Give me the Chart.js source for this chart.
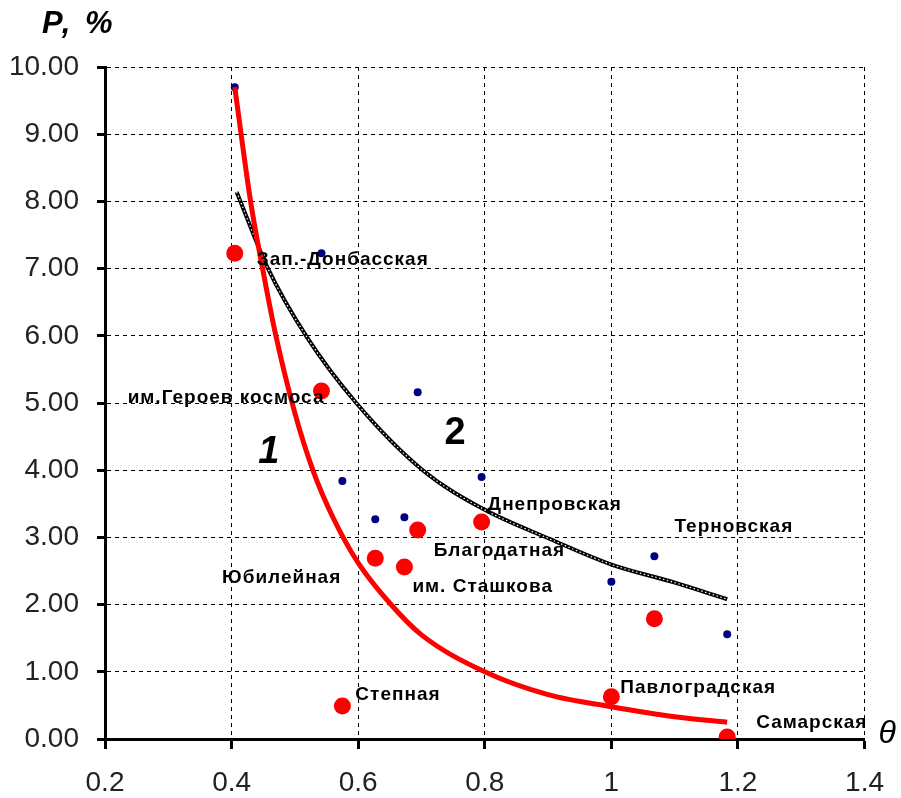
<!DOCTYPE html>
<html>
<head>
<meta charset="utf-8">
<script src="https://cdn.jsdelivr.net/npm/chart.js@4/dist/chart.umd.min.js"></script>
<style>
  html, body { margin: 0; padding: 0; background: #fff; }
  canvas { display: block; }
</style>
</head>
<body>
<canvas id="grafico" width="901" height="798"></canvas>
<script>
// шахты, безразмерный параметр theta и потери P, %
var mines = ["Зап.-Донбасская", "им.Героев космоса", "Степная", "Юбилейная", "им. Сташкова",
             "Благодатная", "Днепровская", "Павлоградская", "Терновская", "Самарская"];
var theta = [0.405, 0.542, 0.575, 0.627, 0.673, 0.694, 0.795, 1.0, 1.068, 1.183];
var pRed  = [7.23, 5.18, 0.49, 2.69, 2.56, 3.11, 3.23, 0.63, 1.79, 0.03];
var pBlue = [9.70, 7.23, 3.84, 3.27, 3.30, 5.16, 3.90, 2.34, 2.72, 1.56];

// кривая 1 (красная) и кривая 2 (черная), точки
var curve1X = [0.405, 0.43, 0.45, 0.47, 0.50, 0.53, 0.56, 0.60, 0.65, 0.70, 0.80, 0.90, 1.0, 1.1, 1.183];
var curve1Y = [9.70, 8.00, 6.95, 6.00, 4.85, 3.96, 3.30, 2.62, 2.02, 1.55, 1.00, 0.66, 0.48, 0.33, 0.25];
var curve2X = [0.408, 0.457, 0.519, 0.597, 0.702, 0.800, 0.902, 0.999, 1.099, 1.183];
var curve2Y = [8.14, 7.01, 5.98, 5.00, 4.00, 3.41, 2.98, 2.60, 2.33, 2.08];

var xTicks = [0.2, 0.4, 0.6, 0.8, 1, 1.2, 1.4];
var yTicks = [0, 1, 2, 3, 4, 5, 6, 7, 8, 9, 10];

function pares(xs, ys) {
    return xs.map(function (v, i) { return { x: v, y: ys[i] }; });
}

// смещения подписей от красной точки: dx, dy, выравнивание
var labelPlacement = [
    [22, 7, "left"], [3, 7, "right"], [13, -11, "left"], [-34, 20, "right"], [8, 20, "left"],
    [16, 21, "left"], [6, -17, "left"], [9, -9, "left"], [20, -92, "left"], [29, -14, "left"]
];
var curveTags = [
    { text: "1", x: 0.459, y: 4.27, italic: true },
    { text: "2", x: 0.753, y: 4.54, italic: false }
];

var tickFont = { family: "'Liberation Sans Narrow', 'Liberation Sans', Arial, sans-serif", size: 28 };

var annotations = {
    id: "annotations",
    afterDatasetsDraw: function (chart) {
        var ctx = chart.ctx;
        var sx = chart.scales.x, sy = chart.scales.y;
        var area = chart.chartArea;
        ctx.save();
        ctx.fillStyle = "#000";
        ctx.textBaseline = "middle";
        ctx.font = "bold 19px 'Liberation Sans', Arial, sans-serif";
        ctx.letterSpacing = "1px";
        mines.forEach(function (name, i) {
            var p = labelPlacement[i];
            ctx.textAlign = p[2];
            ctx.fillText(name, sx.getPixelForValue(theta[i]) + p[0], sy.getPixelForValue(pRed[i]) + p[1]);
        });
        ctx.letterSpacing = "0px";
        ctx.textAlign = "center";
        curveTags.forEach(function (t) {
            ctx.font = (t.italic ? "italic " : "") + "bold 38px 'Liberation Sans', Arial, sans-serif";
            ctx.fillText(t.text, sx.getPixelForValue(t.x), sy.getPixelForValue(t.y));
        });
        // подписи осей
        ctx.textAlign = "left";
        ctx.textBaseline = "alphabetic";
        ctx.font = "italic bold 31px 'Liberation Sans', Arial, sans-serif";
        ctx.letterSpacing = "3px";
        ctx.fillText("P, %", area.left - 63, area.top - 34);
        ctx.letterSpacing = "0px";
        ctx.font = "italic 32px 'Liberation Sans', Arial, sans-serif";
        ctx.fillText("θ", area.right + 14, sy.getPixelForValue(0) + 4);
        ctx.restore();
    }
};

var ctx1 = document.getElementById("grafico").getContext("2d");
new Chart(ctx1, {
    type: "scatter",
    data: {
        datasets: [
            {
                label: "P факт",
                data: pares(theta, pRed),
                backgroundColor: "#ff0000",
                borderWidth: 0,
                pointRadius: 8.5,
                order: 0
            },
            {
                label: "1",
                data: pares(curve1X, curve1Y),
                showLine: true,
                borderColor: "#ff0000",
                borderWidth: 5,
                pointRadius: 0,
                cubicInterpolationMode: "monotone",
                order: 1
            },
            {
                label: "2 (узор)",
                data: pares(curve2X, curve2Y),
                showLine: true,
                borderColor: "#ffffff",
                borderWidth: 1.2,
                borderDash: [1.5, 2.5],
                pointRadius: 0,
                cubicInterpolationMode: "monotone",
                order: 2
            },
            {
                label: "2",
                data: pares(curve2X, curve2Y),
                showLine: true,
                borderColor: "#000000",
                borderWidth: 4,
                pointRadius: 0,
                cubicInterpolationMode: "monotone",
                order: 3
            },
            {
                label: "P расч",
                data: pares(theta, pBlue),
                backgroundColor: "#000080",
                borderWidth: 0,
                pointRadius: 4,
                order: 4
            }
        ]
    },
    options: {
        responsive: false,
        animation: false,
        layout: { padding: { top: 67, right: 35, left: 0, bottom: 0 } },
        plugins: { legend: { display: false }, tooltip: { enabled: false } },
        scales: {
            x: {
                type: "linear",
                min: 0.2,
                max: 1.4,
                afterFit: function (s) { s.height = 59; },
                afterBuildTicks: function (s) { s.ticks = xTicks.map(function (v) { return { value: v }; }); },
                ticks: {
                    color: "#222",
                    font: tickFont,
                    padding: 17,
                    maxRotation: 0,
                    callback: function (v) { return String(parseFloat(v.toFixed(2))); }
                },
                grid: { color: "#000", lineWidth: 1, tickLength: 10, tickColor: "#000", tickWidth: 3 },
                border: { display: true, color: "#000", width: 3, dash: [4, 4] }
            },
            y: {
                min: 0,
                max: 10,
                afterFit: function (s) { s.width = 105; },
                afterBuildTicks: function (s) { s.ticks = yTicks.map(function (v) { return { value: v }; }); },
                ticks: {
                    color: "#222",
                    font: tickFont,
                    padding: 18,
                    callback: function (v) { return v.toFixed(2); }
                },
                grid: { color: "#000", lineWidth: 1, tickLength: 8, tickColor: "#000", tickWidth: 3 },
                border: { display: true, color: "#000", width: 3, dash: [4, 4] }
            }
        }
    },
    plugins: [annotations]
});
</script>
</body>
</html>
